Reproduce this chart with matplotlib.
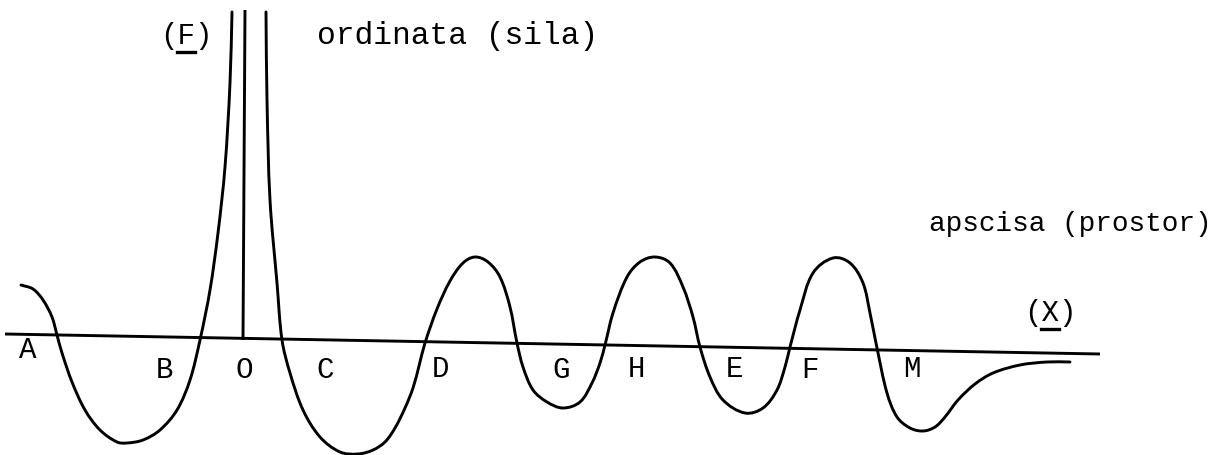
import numpy as np
import matplotlib
matplotlib.use('Agg')
import matplotlib.pyplot as plt
from matplotlib.path import Path
from matplotlib.patches import PathPatch

plt.rcParams['font.family'] = ['Liberation Mono', 'DejaVu Sans Mono']

# sketch of the force curve, traced in drawing units (x right, y down)
left_x = [21, 33, 43, 52, 57, 62, 72, 85, 100, 117, 127, 143, 160, 177, 190,
          200, 210, 218, 225, 230, 232]
left_y = [285, 289, 300, 317, 335, 353, 382, 410, 430, 442, 443, 440, 430, 410,
          380, 340, 290, 233, 167, 83, 12]

right_x = [266, 267, 270, 277, 282, 290, 303, 320, 340, 358, 373, 385, 395, 405,
           413, 419, 425, 437, 450, 463, 475, 488, 500, 510, 517, 523, 533, 547,
           563, 580, 592, 600, 605, 613, 627, 640, 655, 670, 683, 693, 700, 710,
           723, 745, 763, 777, 785, 790, 800, 813, 833, 850, 863, 870, 877, 887,
           897, 910, 923, 935, 945, 958, 975, 993, 1020, 1047, 1070]
right_y = [12, 100, 200, 283, 340, 373, 410, 437, 452, 454, 450, 442, 428, 408,
           388, 366, 343, 309, 281, 263, 257, 262, 277, 307, 343, 367, 390, 402,
           408, 402, 383, 363, 345, 313, 277, 262, 257, 263, 287, 317, 347, 377,
           400, 413, 408, 390, 367, 347, 310, 273, 258, 263, 283, 313, 348, 393,
           417, 428, 431, 427, 417, 400, 384, 373, 365, 362, 362]

# axes of the sketch
abscissa_x = [5, 1100]
abscissa_y = [334, 354]
ordinate_x = [245, 243]
ordinate_y = [10, 340]

point_names = ['A', 'B', 'O', 'C', 'D', 'G', 'H', 'E', 'F', 'M']
point_x = [28, 165, 244, 325, 441, 561, 637, 735, 810, 912]
point_y = [350, 370, 370, 370, 369, 370, 369, 369, 370, 369]

# symbols of the two quantities, the letter is underlined
symbols = ['F', 'X']
symbol_x = [186, 1050]
symbol_y = [36, 313]


def smooth_path(xs, ys):
    # smooth pen stroke through the traced points as cubic Beziers;
    # tangent direction from the neighbours, handle length from the segment
    p = np.column_stack([xs, ys]).astype(float)
    n = len(p)
    tang = np.zeros_like(p)
    for i in range(n):
        a = p[max(i - 1, 0)]
        b = p[min(i + 1, n - 1)]
        d = b - a
        tang[i] = d / np.hypot(*d)
    verts = [p[0]]
    codes = [Path.MOVETO]
    for i in range(n - 1):
        seg = np.hypot(*(p[i + 1] - p[i])) / 3.0
        verts += [p[i] + tang[i] * seg, p[i + 1] - tang[i + 1] * seg, p[i + 1]]
        codes += [Path.CURVE4] * 3
    return Path(verts, codes)


fig = plt.figure(figsize=(12.26, 4.55), dpi=100)
ax = fig.add_axes([0, 0, 1, 1])
ax.set_xlim(0, 1226)
ax.set_ylim(455, 0)
ax.axis('off')

lw = 2.1
ax.plot(abscissa_x, abscissa_y, color='black', lw=lw, solid_capstyle='butt')
ax.plot(ordinate_x, ordinate_y, color='black', lw=lw, solid_capstyle='butt')
for xs, ys in [(left_x, left_y), (right_x, right_y)]:
    ax.add_patch(PathPatch(smooth_path(xs, ys), facecolor='none',
                           edgecolor='black', lw=lw, capstyle='round'))

for name, x, y in zip(point_names, point_x, point_y):
    ax.text(x, y, name, fontsize=21, ha='center', va='center')

for s, x, y in zip(symbols, symbol_x, symbol_y):
    ax.text(x, y, '(' + s + ')', fontsize=21, ha='center', va='center')
    ax.plot([x - 9, x + 9], [y + 16, y + 16], color='black', lw=2.4)

ax.text(317, 36, 'ordinata (sila)', fontsize=22.5, ha='left', va='center')
ax.text(1212, 224, 'apscisa (prostor)', fontsize=20, ha='right', va='center')

fig.savefig('out.png', dpi=100, facecolor='white')
